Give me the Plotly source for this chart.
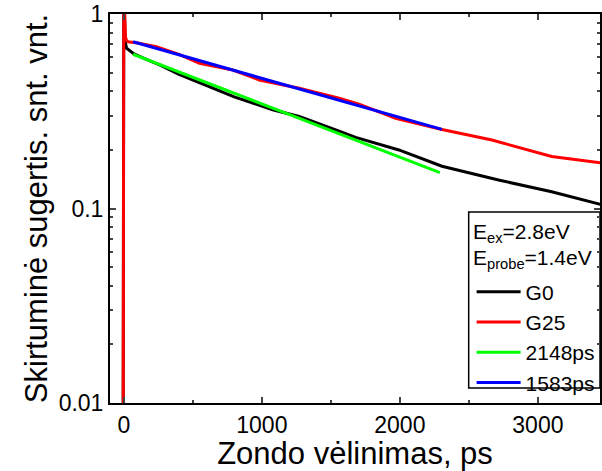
import plotly.graph_objects as go

# ---- data ----
g0_t = [-20, -5, 0, 5, 10, 20, 40, 67, 150, 260, 400, 597, 800, 1078, 1271, 1560, 1680, 1993, 2305, 2715, 3100, 3500]
g0_v = [0.002, 0.005, 1.3, 0.9, 0.72, 0.667, 0.65, 0.628, 0.59, 0.547, 0.49, 0.431, 0.375, 0.322, 0.297, 0.25, 0.232, 0.2, 0.165, 0.14, 0.122, 0.103]

g25_t = [-20, -5, 0, 5, 12, 20, 31, 100, 236, 400, 549, 790, 982, 1271, 1560, 1704, 1969, 2305, 2667, 3100, 3500]
g25_v = [0.002, 0.004, 1.5, 1.0, 0.76, 0.73, 0.72, 0.71, 0.68, 0.62, 0.558, 0.515, 0.458, 0.415, 0.369, 0.344, 0.291, 0.255, 0.225, 0.185, 0.17]

fit2148_t = [67, 260, 500, 1000, 1271, 1500, 2000, 2290]
fit2148_v = [0.621, 0.55, 0.472, 0.345, 0.292, 0.251, 0.183, 0.153]

fit1583_t = [67, 500, 1000, 1500, 2000, 2305]
fit1583_v = [0.72, 0.589, 0.467, 0.371, 0.294, 0.255]

series_names = ["G0", "G25", "2148ps", "1583ps"]
series_colors = ["#000000", "#ff0000", "#00ff00", "#0000ff"]

x_tickvals = [0, 1000, 2000, 3000]
x_minor = [500, 1500, 2500, 3500]
y_tickvals = [0.01, 0.1, 1]
y_ticktext = ["0.01", "0.1", "1"]
y_minor = [m * d for d in (0.01, 0.1) for m in range(2, 10)]

FONT = "Arial, Liberation Sans, sans-serif"

fig = go.Figure()
data = [(g0_t, g0_v), (g25_t, g25_v), (fit2148_t, fit2148_v), (fit1583_t, fit1583_v)]
for (t, v), name, col in zip(data, series_names, series_colors):
    fig.add_trace(go.Scatter(x=t, y=v, mode="lines", name=name,
                             line=dict(color=col, width=3)))

fig.update_layout(
    width=602, height=471,
    margin=dict(l=110, r=0, t=14, b=68),
    paper_bgcolor="white", plot_bgcolor="white",
    font=dict(family=FONT, color="black", size=23),
    showlegend=True,
    legend=dict(x=0.738, y=0.338, xanchor="left", yanchor="top",
                bgcolor="rgba(0,0,0,0)", borderwidth=0,
                font=dict(size=21, family=FONT), tracegroupgap=0,
                itemwidth=44),
    xaxis=dict(range=[-100, 3450], showline=True, linecolor="black", linewidth=2,
               mirror="ticks", ticks="inside", ticklen=6, tickwidth=2,
               tickvals=x_tickvals, showgrid=False, zeroline=False,
               tickfont=dict(size=23),
               minor=dict(tickmode="array", tickvals=x_minor, ticks="inside",
                          ticklen=3, tickwidth=2, showgrid=False),
               title=dict(text="Zondo vėlinimas, ps", font=dict(size=31), standoff=4)),
    yaxis=dict(type="log", range=[-2, 0], showline=True, linecolor="black", linewidth=2,
               mirror="ticks", ticks="inside", ticklen=6, tickwidth=2,
               tickvals=y_tickvals, ticktext=y_ticktext, showgrid=False, zeroline=False,
               tickfont=dict(size=23),
               minor=dict(tickmode="array", tickvals=y_minor, ticks="inside",
                          ticklen=3, tickwidth=2, showgrid=False),
               title=dict(text="Skirtuminė sugertis. snt. vnt.", font=dict(size=31), standoff=2)),
)

fig.add_shape(type="rect", xref="paper", yref="paper",
              x0=0.732, x1=1.0, y0=0.0386, y1=0.491,
              line=dict(color="black", width=1.5), fillcolor="white", layer="below")

fig.add_annotation(xref="paper", yref="paper", x=0.736, y=0.437,
                   xanchor="left", yanchor="middle", showarrow=False,
                   text="E<sub>ex</sub>=2.8eV", font=dict(size=21, family=FONT))
fig.add_annotation(xref="paper", yref="paper", x=0.736, y=0.370,
                   xanchor="left", yanchor="middle", showarrow=False,
                   text="E<sub>probe</sub>=1.4eV", font=dict(size=21, family=FONT))

fig.write_html("out.html")
